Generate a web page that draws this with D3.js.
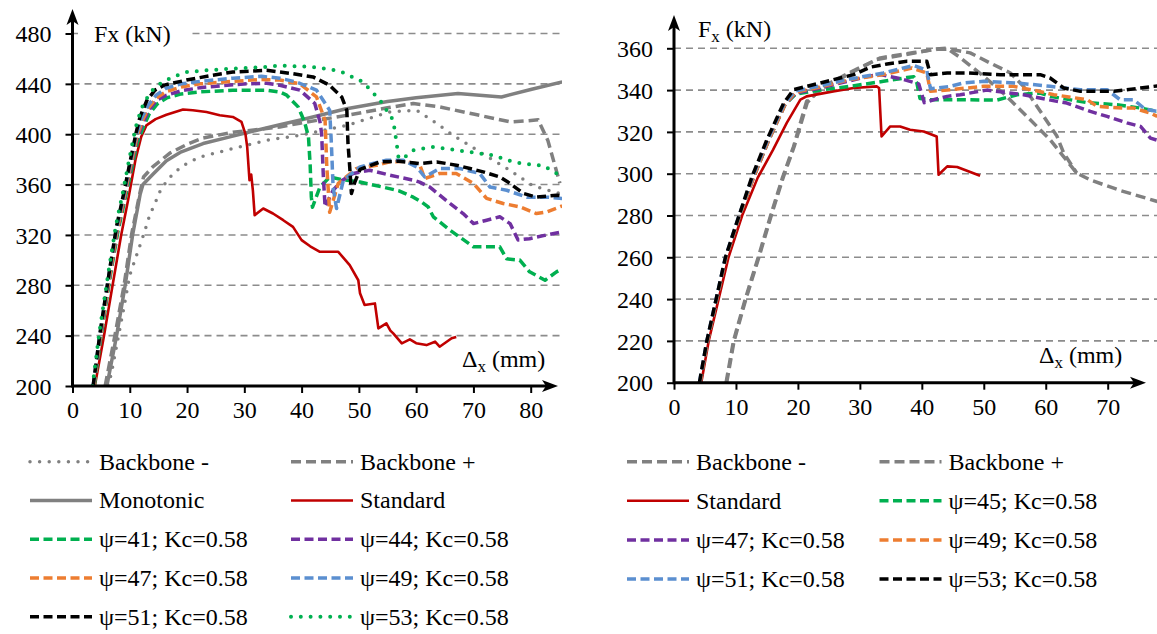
<!DOCTYPE html>
<html>
<head>
<meta charset="UTF-8">
<script src="https://d3js.org/d3.v7.min.js"></script>
</head>
<body style="margin:0">
<svg width="1157" height="634" id="chart"></svg>
<script>
// ---- tick values ----
const xTicksL = [0, 10, 20, 30, 40, 50, 60, 70, 80];
const yTicksL = [200, 240, 280, 320, 360, 400, 440, 480];
const xTicksR = [0, 10, 20, 30, 40, 50, 60, 70];
const yTicksR = [200, 220, 240, 260, 280, 300, 320, 340, 360];

// ---- left panel series [Δx (mm), Fx (kN)] ----
const lBackboneNeg = [[6.3,200],[7,215],[8,239],[9,263],[10,288],[11.2,304],[12.4,320],[13.5,336],[14.4,345],[15.5,357],[17.6,369],[20,377],[22.3,382],[28,388.6],[33.9,395.2],[39.7,399.2],[47.9,407],[55.4,417.7],[60.1,419],[63.6,408.5],[66.5,399],[71.1,386],[75.8,373],[80.4,359],[85,353]];
const lBackbonePos = [[5.7,200],[7.4,240],[9,280],[10.3,320],[11.7,352],[12.4,366],[14,374],[17,385],[20,392],[22.8,397],[28,401.5],[32,403.5],[36.2,405.8],[39.7,408.7],[47.9,415],[55,421],[59.5,424.4],[64.1,421.7],[70,416],[76.4,409.8],[79,410.5],[81.3,411.5],[83,395],[85.1,361]];
const lMonotonic = [[6,200],[7.7,240],[9.2,280],[10.5,320],[11.8,352],[12.3,360],[14,368],[16.4,379],[19,386],[22.8,392.6],[28,398.5],[32,403],[36.2,407.5],[40,411.5],[47.6,420],[55,426],[60,429],[67.3,432.3],[74.9,429.6],[80,435.5],[85.5,441.5]];
const lStandard = [[3.9,200],[5.5,240],[7,280],[8.5,320],[9.7,347.6],[11,380],[12,398],[12.9,407],[14.5,412],[16.4,415.5],[19.3,419.6],[21,419],[23.4,417.7],[25.7,415],[28,413.7],[29.5,409.8],[30.2,400],[30.5,390],[30.9,363.5],[31.2,368],[31.5,355],[31.8,335.7],[33.3,341],[35,337],[36.8,331.7],[38.5,326.4],[40,315.9],[41.5,311],[43.2,306.6],[46.4,306.6],[48.4,296],[49.9,284],[50.2,273.6],[51,264.3],[52.8,265.6],[53.4,245.8],[54.8,249.8],[55.5,244],[56,241.8],[57.5,233.9],[58.9,237],[60,234],[61.8,232.5],[63.3,235.2],[64.1,231.2],[66.2,237.9],[67,239]];
const lPsi41 = [[3.8,200],[5,240],[6.7,290],[7.9,322],[9.1,347],[10.2,370],[11.3,393],[12.3,405],[13.4,416],[14.8,424],[16.5,429],[19,432],[22.3,433.6],[28,435],[33.9,435],[36.2,433.5],[37.4,431],[39.4,421.7],[40.5,410],[41.2,398],[41.5,375],[41.7,350],[41.9,342],[43.2,358],[44.9,366],[47,364],[50.2,362],[54.2,358],[57,355],[59.5,350],[61,346],[62.1,342.3],[63,334.4],[65.9,323.8],[70,310.6],[74.6,310.6],[75.8,301],[78.1,300],[79.8,290.7],[82.5,284],[84.5,290.7],[85.5,293]];
const lPsi44 = [[3.7,200],[4.9,240],[6.6,290],[7.8,323],[9,348],[10.1,372],[11.2,395],[12.2,408],[13.3,419],[14.7,427],[16.4,431],[19,434.5],[22.3,437],[26,438.5],[30.4,440],[33.9,440.5],[36.2,438.9],[39.7,435],[42.3,424.4],[43.2,410],[43.5,400.5],[43.8,366],[44.1,342.3],[45.5,355.5],[47,363],[49,368.8],[51.9,371.4],[55.4,367.5],[59.5,363.5],[60.6,362],[62.4,358],[65.9,345],[68.2,337],[70,329],[72.3,331.7],[74.6,334.4],[76.4,329],[77.8,316],[79.8,317],[82.8,320],[85.5,322.4]];
const lPsi47 = [[3.7,200],[4.9,241],[6.6,291],[7.8,324],[9,349],[10.1,374],[11.2,397],[12.2,411],[13.3,421],[14.7,429],[16.4,434],[19,437.5],[22.3,440],[28,442],[33,443.5],[36.2,443],[39.7,440],[42.6,429.6],[44.1,411],[44.4,374],[44.9,338],[46.4,361],[49.6,372.8],[53.1,375.4],[55.4,378],[58,378.5],[60.6,376],[61.5,364.8],[64.1,368.8],[67,368.8],[70,361],[72.3,349],[75.2,345],[78.1,342.3],[81,337],[82.8,338.3],[85.5,343]];
const lPsi49 = [[3.6,200],[4.8,241],[6.5,292],[7.7,325],[8.9,350],[10,375],[11.1,399],[12.1,413],[13.2,423],[14.6,431],[16.3,436.5],[19,440],[22.3,442],[28,444.5],[33,446],[36.2,444.5],[39.1,441.5],[42.6,435],[44.9,419],[45.2,392.6],[45.5,358],[46.1,341],[47.3,363.5],[50.2,374],[54.8,379.4],[57.7,379.4],[60.1,374],[61.5,366],[64.1,372.8],[67.6,372.8],[71.1,368.8],[72.9,358],[75.8,355.5],[79.3,350],[82.8,350],[85.5,349]];
const lPsi51 = [[3.6,200],[4.8,242],[6.5,293],[7.7,327],[8.9,352],[10,377],[11.1,401],[11.8,414],[13,427],[14.4,435],[16,439],[19.9,443],[24,446.5],[28,449.4],[33.9,450.8],[36.2,449.4],[38.5,448],[42,445.5],[44.9,438.9],[47,429.6],[47.9,419],[48.1,392.6],[48.4,374],[48.7,353],[49.3,362],[50.2,372],[53.7,378],[57,378.5],[60.6,376.7],[63.6,378],[67,375.4],[69.4,372.8],[71.7,370.1],[74.6,366],[76.4,360.9],[78.7,353],[81,350],[84.5,351.6],[85.5,351]];
const lPsi53 = [[3.5,200],[4.7,243],[6.4,294],[7.6,328],[8.8,354],[9.9,380],[11,405],[12,420],[12.9,428],[14.3,437],[15.8,441.5],[17.8,446],[19.9,449.4],[24,451],[28,452],[33.9,453.4],[36.2,454.5],[42,453.4],[46.7,450.2],[50.7,441.5],[53.7,427],[56,411],[56.6,392.6],[56.9,382],[57.5,380],[59.5,387.3],[63,390],[67,387.3],[73.4,383.3],[76.9,378],[78.7,376.7],[82.2,375],[84.5,368.8],[85.5,364]];

// ---- right panel series ----
const rBackboneNeg = [[8.4,200],[9.6,220],[11.5,240],[13.6,260],[15.6,280],[17.5,298],[19.3,313],[21.4,334.6],[24,341],[28.4,348],[32.7,354.6],[39,357.8],[42,359.6],[44,360],[46,356],[50,346.6],[53.7,337],[57.5,325.8],[60.7,316.3],[65,300.3],[67.2,297],[72,292],[78,286.7]];
const rBackbonePos = [[8.5,200],[9.7,220],[11.6,240],[13.7,260],[15.7,280],[17.6,298],[19.4,313],[21.5,334],[24,341.5],[28.4,348.5],[33.3,355.4],[38.7,358],[42.5,359.5],[44.5,359.6],[47.8,357.8],[51,353],[54.3,348.2],[56.4,341.8],[58.6,332.2],[61.8,318],[62.9,309.9],[65,300.3]];
const rStandard = [[4.4,200],[5.6,220],[7.2,240],[8.8,260],[11,280],[13.5,298],[16,311.5],[18.2,324.3],[20.4,335.4],[21.4,337],[25.7,339.4],[29,341],[32.7,341.8],[33.1,341],[33.5,317.8],[34.9,322.6],[36.5,322.6],[38.1,321],[40.3,320.2],[42.4,317.8],[42.7,299.5],[44.1,303.5],[45.7,303.2],[49.4,299]];
const rPsi45 = [[4.2,200],[5.4,220],[6.9,240],[8.4,260],[10.6,280],[12.8,298],[15.2,315.5],[17.9,333],[19.6,338],[23.6,340],[28.4,341.8],[33.8,344.2],[37.6,346],[38.7,346.4],[39.2,343.4],[39.7,336],[41.4,335.4],[46.2,335.4],[52.1,335.2],[55.4,337.8],[59.1,338.6],[60.7,337],[66.7,334],[71.5,333],[75.3,331.4],[78,329.8]];
const rPsi47 = [[4.2,200],[5.4,220],[6.9,240],[8.4,260],[10.6,280],[12.8,298],[15.2,315.5],[17.9,333],[19.6,338.5],[23.6,341],[28.4,344.5],[31.7,346.8],[33.3,347.4],[36.5,345.5],[39.5,343],[40.4,334],[41.9,335.4],[44.1,337],[46.2,337.8],[50.5,340],[56.4,337.8],[61.8,334.6],[63.4,333.8],[67.2,329.8],[69.9,327.4],[73.1,324.3],[75.3,322.6],[76.9,317],[78,316]];
const rPsi49 = [[4.2,200],[5.4,220],[6.9,240],[8.4,260],[10.6,280],[12.8,298],[15.2,315.5],[17.9,333],[19.6,339],[23.6,341.5],[28.4,345],[33.8,347.4],[38.4,350.6],[40.8,348.2],[41.4,339.4],[44.6,340.2],[50,341.8],[54.8,341.8],[58,340],[61.3,337.8],[66.7,335.4],[68.3,332.2],[72.6,331.4],[74.2,331.4],[76.9,329],[78,327.4]];
const rPsi51 = [[4.1,200],[5.3,220],[6.8,240],[8.3,260],[10.5,280],[12.7,298.5],[15.1,316],[17.8,333.5],[19.5,339.5],[23.6,342],[28.4,345.3],[33.8,348.2],[38.7,351.8],[40.8,349.5],[41.4,340.6],[44.6,341.8],[46.7,343.4],[50,344.2],[55.4,343.4],[60.7,341.8],[65.6,340.2],[69.9,340.2],[72,335.4],[74.2,335.4],[76,331],[78,329.8]];
const rPsi53 = [[4.1,200],[5.3,220],[6.8,240],[8.3,260],[10.5,280],[12.6,298.7],[15,316.3],[17.7,333.8],[19.3,340.2],[23.6,343.4],[29,347.4],[31.7,351],[34.4,352.5],[37.6,353.8],[40.8,353.8],[41.4,347.4],[44.1,348.2],[47.3,348.2],[52.7,347.4],[59.1,347.4],[60.7,345.8],[62.9,341],[65.6,339.4],[71,339.4],[75.3,341],[78,342]];

// ---- styles ----
const FONT = '"Liberation Serif"';
const GRAY = "#808080";
const st = {
  bbDot:   { color: GRAY, width: 3.5, dash: "0,9.6", cap: "round" },
  bbDash:  { color: GRAY, width: 3.5, dash: "10,5" },
  mono:    { color: GRAY, width: 3.5 },
  std:     { color: "#c00000", width: 2.6 },
  green:   { color: "#00b050", width: 3.5, dash: "9,4.5" },
  purple:  { color: "#7030a0", width: 3.5, dash: "9,4.5" },
  orange:  { color: "#ed7d31", width: 3.5, dash: "9,4.5" },
  blue:    { color: "#5b8fd0", width: 3.5, dash: "9,4.5" },
  black:   { color: "#000000", width: 3.5, dash: "9,4.5" },
  greenDot:{ color: "#00b050", width: 4, dash: "0,9.8", cap: "round" }
};

const svg = d3.select("#chart");

// give a text node the serif face, the same way on every label
function serif(sel, size) {
  sel.attr("font-size", size).attr("font-family", null)
    .each(function() { this.style.fontFamily = FONT; });
  return sel;
}

const panels = [
  {
    id: "L",
    x: d3.scaleLinear().domain([0, 80]).range([72.5, 530.7]),
    y: d3.scaleLinear().domain([200, 480]).range([386, 33.5]),
    xTicks: xTicksL, yTicks: yTicksL,
    xEnd: 558, yTop: 9, gridRight: 561, clipRight: 562,
    series: [
      { d: lBackboneNeg, s: st.bbDot,  name: "Backbone -" },
      { d: lBackbonePos, s: st.bbDash, name: "Backbone +" },
      { d: lMonotonic,   s: st.mono,   name: "Monotonic" },
      { d: lStandard,    s: st.std,    name: "Standard" },
      { d: lPsi41, s: st.green,    name: "ψ=41; Kc=0.58" },
      { d: lPsi44, s: st.purple,   name: "ψ=44; Kc=0.58" },
      { d: lPsi47, s: st.orange,   name: "ψ=47; Kc=0.58" },
      { d: lPsi49, s: st.blue,     name: "ψ=49; Kc=0.58" },
      { d: lPsi51, s: st.black,    name: "ψ=51; Kc=0.58" },
      { d: lPsi53, s: st.greenDot, name: "ψ=53; Kc=0.58" }
    ],
    legendCols: [30, 291], legendRow0: 461.7, legendDy: 38.75,
    fLabel: { x: 94, y: 41.5, sub: false, bg: [78, 18, 110, 30] },
    dLabel: { x: 462, y: 366.5, bg: null }
  },
  {
    id: "R",
    x: d3.scaleLinear().domain([0, 70]).range([674, 1107.7]),
    y: d3.scaleLinear().domain([200, 360]).range([382.7, 48.3]),
    xTicks: xTicksR, yTicks: yTicksR,
    xEnd: 1146, yTop: 15, gridRight: 1157, clipRight: 1157,
    series: [
      { d: rBackboneNeg, s: st.bbDash, name: "Backbone -" },
      { d: rBackbonePos, s: st.bbDash, name: "Backbone +" },
      { d: rStandard,    s: st.std,    name: "Standard" },
      { d: rPsi45, s: st.green,  name: "ψ=45; Kc=0.58" },
      { d: rPsi47, s: st.purple, name: "ψ=47; Kc=0.58" },
      { d: rPsi49, s: st.orange, name: "ψ=49; Kc=0.58" },
      { d: rPsi51, s: st.blue,   name: "ψ=51; Kc=0.58" },
      { d: rPsi53, s: st.black,  name: "ψ=53; Kc=0.58" }
    ],
    legendCols: [627, 879.5], legendRow0: 461.7, legendDy: 39.1,
    fLabel: { x: 698, y: 36.7, sub: true, bg: null },
    dLabel: { x: 1039, y: 362.5, bg: [1030, 343, 106, 32] }
  }
];

panels.forEach(p => {
  const g = svg.append("g");
  const x0 = p.x(0), yBase = p.y(p.yTicks[0]);

  // gridlines
  g.append("g").selectAll("line")
    .data(p.yTicks.slice(1))
    .join("line")
    .attr("x1", x0).attr("x2", p.gridRight)
    .attr("y1", d => p.y(d)).attr("y2", d => p.y(d))
    .attr("stroke", "#8c8c8c").attr("stroke-width", 1.6)
    .attr("stroke-dasharray", "7,5");

  // axis label backgrounds
  if (p.fLabel.bg) g.append("rect").attr("x", p.fLabel.bg[0]).attr("y", p.fLabel.bg[1])
    .attr("width", p.fLabel.bg[2]).attr("height", p.fLabel.bg[3]).attr("fill", "#fff");
  if (p.dLabel.bg) g.append("rect").attr("x", p.dLabel.bg[0]).attr("y", p.dLabel.bg[1])
    .attr("width", p.dLabel.bg[2]).attr("height", p.dLabel.bg[3]).attr("fill", "#fff");

  // clip
  svg.append("clipPath").attr("id", "clip" + p.id)
    .append("rect").attr("x", x0).attr("y", 0)
    .attr("width", p.clipRight - x0).attr("height", yBase);

  const line = d3.line().x(d => p.x(d[0])).y(d => p.y(d[1]));
  const lines = g.append("g").attr("clip-path", `url(#clip${p.id})`);
  p.series.forEach(s => {
    lines.append("path")
      .attr("d", line(s.d))
      .attr("fill", "none")
      .attr("stroke", s.s.color)
      .attr("stroke-width", s.s.width)
      .attr("stroke-dasharray", s.s.dash || null)
      .attr("stroke-linecap", s.s.cap || "butt")
      .attr("stroke-linejoin", "round");
  });

  // axes
  const ax = g.append("g").attr("transform", `translate(0,${yBase})`)
    .call(d3.axisBottom(p.x).tickValues(p.xTicks).tickSize(7).tickSizeOuter(0).tickPadding(8));
  const ay = g.append("g").attr("transform", `translate(${x0},0)`)
    .call(d3.axisLeft(p.y).tickValues(p.yTicks).tickSize(7).tickSizeOuter(0).tickPadding(14));
  [ax, ay].forEach(a => {
    a.attr("font-family", null).attr("font-size", null);
    a.select(".domain").remove();
    a.selectAll(".tick line").attr("stroke", "#000").attr("stroke-width", 2);
    serif(a.selectAll(".tick text"), 24).attr("fill", "#000");
  });
  ay.selectAll(".tick text").attr("dy", "0.34em");

  g.append("line").attr("x1", x0).attr("x2", p.xEnd - 8).attr("y1", yBase).attr("y2", yBase)
    .attr("stroke", "#000").attr("stroke-width", 3);
  g.append("line").attr("x1", x0).attr("x2", x0).attr("y1", yBase + 1.5).attr("y2", p.yTop + 8)
    .attr("stroke", "#000").attr("stroke-width", 3);
  // arrow heads
  g.append("path")
    .attr("d", `M${p.xEnd},${yBase} L${p.xEnd - 16},${yBase - 6} L${p.xEnd - 12},${yBase} L${p.xEnd - 16},${yBase + 6} Z`)
    .attr("fill", "#000");
  g.append("path")
    .attr("d", `M${x0},${p.yTop} L${x0 - 6},${p.yTop + 16} L${x0},${p.yTop + 12} L${x0 + 6},${p.yTop + 16} Z`)
    .attr("fill", "#000");

  // axis titles
  const fl = serif(g.append("text"), 24).attr("x", p.fLabel.x).attr("y", p.fLabel.y);
  if (p.fLabel.sub) {
    fl.append("tspan").text("F");
    fl.append("tspan").attr("font-size", 17).attr("dy", 5).text("x");
    fl.append("tspan").attr("dy", -5).text(" (kN)");
  } else {
    fl.text("Fx (kN)");
  }
  const dl = serif(g.append("text"), 24).attr("x", p.dLabel.x).attr("y", p.dLabel.y);
  dl.append("tspan").text("Δ");
  dl.append("tspan").attr("font-size", 17).attr("dy", 5).text("x");
  dl.append("tspan").attr("dy", -5).text(" (mm)");

  // legend
  const leg = g.append("g");
  p.series.forEach((s, i) => {
    const cx = p.legendCols[i % 2];
    const cy = p.legendRow0 + Math.floor(i / 2) * p.legendDy;
    leg.append("line")
      .attr("x1", cx).attr("x2", cx + 62).attr("y1", cy).attr("y2", cy)
      .attr("stroke", s.s.color).attr("stroke-width", s.s.width)
      .attr("stroke-dasharray", s.s.dash || null)
      .attr("stroke-linecap", s.s.cap || "butt");
    serif(leg.append("text"), 24).attr("x", cx + 69).attr("y", cy + 7.8).text(s.name);
  });
});
</script>
</body>
</html>
